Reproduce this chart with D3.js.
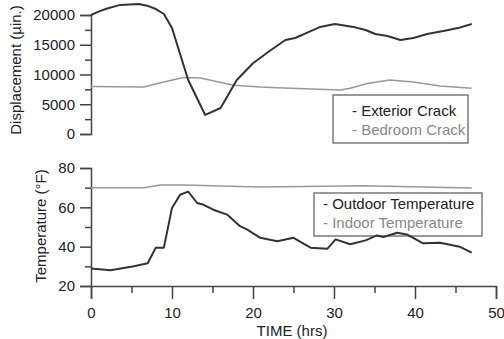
<!DOCTYPE html>
<html><head><meta charset="utf-8">
<script src="https://cdn.jsdelivr.net/npm/d3@7"></script>
<style>body{margin:0;background:#fff}svg{display:block;font-family:"Liberation Sans",Arial,sans-serif}</style>
</head><body><svg id="c" width="504" height="339"></svg>
<script>
const extT=[0,1,2,3.6,5.9,7.1,8,9,10,12,14.1,16,18,20,22,24,25.2,26.5,28.3,30.1,32.4,33.9,35.1,36.6,38.2,39.8,41.5,43.5,45.3,47];
const extV=[20000,20600,21100,21700,21850,21500,21000,20170,17800,9075,3200,4370,9075,11900,13900,15800,16130,16900,18000,18500,18000,17480,16800,16470,15800,16130,16800,17300,17800,18500];
const bedT=[0,6.5,8.2,11.4,13.5,17.6,20.9,24.6,30.8,32,34.1,36.9,39.8,43.1,47];
const bedV=[8000,7900,8500,9500,9400,8200,7900,7700,7400,7700,8500,9075,8740,8070,7700];
const outT=[0,2.4,5.3,7,8,9,10,11,12,13.1,13.9,15.1,16.8,18.4,19.3,20.9,23,25,27.1,29.2,30.2,32,33.9,35.3,36.1,37.8,39,41,43.1,45.5,47];
const outV=[28.9,28,30,31.6,39.5,39.5,59.7,66.4,68,62.2,61.3,58.8,56.3,50.4,48.7,44.5,42.8,44.5,39.5,39,43.7,41.2,43.2,45.7,44.9,47.1,46.2,41.7,42,40,37];
const inT=[0,6.5,8.6,11.4,18.4,20.9,33.6,47];
const inV=[70,70,71.4,71.4,70.6,70.3,71,69.8];
const dispTicks=[0,5000,10000,15000,20000];
const dispMinor=[2500,7500,12500,17500];
const tempTicks=[20,40,60,80];
const tempMinor=[30,50,70];
const timeTicks=[0,10,20,30,40,50];
const timeMinor=[5,15,25,35,45];
const legTop=["- Exterior Crack","- Bedroom Crack"];
const legBot=["- Outdoor Temperature","- Indoor Temperature"];

const svg=d3.select("#c");
const dark="#333", light="#999", axc="#444", txt="#222";
const FF="Liberation Sans, Arial, sans-serif";
const x=d3.scaleLinear().domain([0,50]).range([91,496]);
const yD=d3.scaleLinear().domain([0,20000]).range([134,15]);
const yT=d3.scaleLinear().domain([20,80]).range([286,168]);

function yAxis(scale,major,minor,fmt){
  const g=svg.append("g").attr("transform","translate(91,0)");
  g.call(d3.axisLeft(scale).tickValues(major).tickSize(11).tickPadding(5).tickFormat(fmt));
  g.append("g").call(d3.axisLeft(scale).tickValues(minor).tickSize(6).tickFormat(""));
  g.selectAll(".domain").attr("stroke",axc).attr("stroke-width",1.5);
  g.selectAll(".tick line").attr("stroke",axc).attr("stroke-width",1.5);
  g.selectAll("text").attr("font-size",15).attr("fill",txt).style("font-family",FF);
  g.selectAll("g g .domain").remove();
  return g;
}
yAxis(yD,dispTicks,dispMinor,d3.format("d"));
yAxis(yT,tempTicks,tempMinor,d3.format("d"));

const gx=svg.append("g").attr("transform","translate(0,286)");
gx.call(d3.axisBottom(x).tickValues(timeTicks).tickSize(13).tickPadding(8).tickFormat(d3.format("d")));
gx.append("g").call(d3.axisBottom(x).tickValues(timeMinor).tickSize(7).tickFormat(""));
gx.selectAll("g g .domain").remove();
gx.select(".domain").attr("stroke",axc).attr("stroke-width",1.5);
gx.selectAll(".tick line").attr("stroke",axc).attr("stroke-width",1.5);
gx.selectAll("text").attr("font-size",15).attr("fill",txt).style("font-family",FF);

function legend(x0,y0,w,h,labels,tx,b1,b2){
  svg.append("rect").attr("x",x0).attr("y",y0).attr("width",w).attr("height",h)
    .attr("fill","none").attr("stroke","#666").attr("stroke-width",1.3);
  svg.append("text").attr("x",tx).attr("y",b1).attr("font-size",15).attr("fill","#222").text(labels[0]);
  svg.append("text").attr("x",tx).attr("y",b2).attr("font-size",15).attr("fill","#888").text(labels[1]);
}
legend(333,95,135,48,legTop,352,116,135);
legend(314,193,168,43,legBot,323,209,228);

function line(T,V,y,col,w){
  const data=T.map((t,i)=>[t,V[i]]);
  svg.append("path").datum(data).attr("fill","none").attr("stroke",col).attr("stroke-width",w)
    .attr("stroke-linejoin","round")
    .attr("d",d3.line().x(d=>x(d[0])).y(d=>y(d[1])));
}
line(bedT,bedV,yD,light,1.5);
line(extT,extV,yD,dark,2);
line(inT,inV,yT,light,1.5);
line(outT,outV,yT,dark,2);

svg.append("text").attr("transform","translate(21,70) rotate(-90)").attr("text-anchor","middle")
  .attr("font-size",15).attr("fill",txt).text("Displacement (µin.)");
svg.append("text").attr("transform","translate(46,226) rotate(-90)").attr("text-anchor","middle")
  .attr("font-size",15).attr("fill",txt).text("Temperature (°F)");
svg.append("text").attr("x",292).attr("y",336).attr("text-anchor","middle")
  .attr("font-size",15).attr("fill",txt).text("TIME (hrs)");
</script></body></html>
